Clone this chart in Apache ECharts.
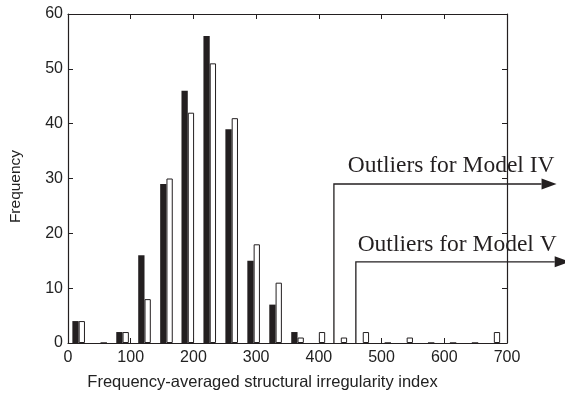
<!DOCTYPE html>
<html>
<head>
<meta charset="utf-8">
<script src="https://cdn.jsdelivr.net/npm/echarts@6/dist/echarts.min.js"></script>
<style>
  html, body { margin: 0; padding: 0; background: #fff; }
  #chart { width: 565px; height: 398px; }
</style>
</head>
<body>
<div id="chart"></div>
<script>
// Histogram bin centres (structural irregularity index)
const binCenters = [17, 52, 87, 122, 157, 191, 226, 261, 296, 331, 366, 400, 435, 470, 505, 540, 574, 609, 644, 679];
// Frequencies per bin for the two models (filled / open bars)
const modelIV = [4, 0, 2, 16, 29, 46, 56, 39, 15, 7, 2, 0, 0, 0, 0, 0, 0, 0, 0, 0];
const modelV  = [4, 0, 2, 8, 30, 42, 51, 41, 18, 11, 1, 2, 1, 2, 0, 1, 0, 0, 0, 2];

// Outlier thresholds: start index, bracket height, arrow end (index units)
const outlierLabels = ['Outliers for Model IV', 'Outliers for Model V'];
const outlierStart = [424, 459];
const outlierLevel = [29, 14.8];
const outlierArrowEnd = [779, 800];

const xTicks = { min: 0, max: 700, step: 100 };
const yTicks = { min: 0, max: 60, step: 10 };

const ink = '#231f20';
const sans = 'Liberation Sans, Arial, sans-serif';
const serif = 'Liberation Serif, Times New Roman, serif';

const chart = echarts.init(document.getElementById('chart'), null, { renderer: 'canvas' });

const boxAxis = {
  axisLine: { show: true, onZero: false, lineStyle: { color: ink, width: 1.2 } },
  axisTick: { show: true, inside: true, length: 5, lineStyle: { color: ink } },
  splitLine: { show: false }
};

const option = {
  animation: false,
  backgroundColor: '#fff',
  grid: { left: 66, right: 58, top: 14, bottom: 55, containLabel: false },
  xAxis: [
    Object.assign({
      type: 'value', min: xTicks.min, max: xTicks.max, interval: xTicks.step,
      position: 'bottom',
      name: 'Frequency-averaged structural irregularity index',
      nameLocation: 'middle', nameGap: 31,
      nameTextStyle: { fontFamily: sans, fontSize: 16.5, color: '#222', padding: [0, 50, 0, 0] },
      axisLabel: { fontFamily: sans, fontSize: 16, color: '#222', margin: 7 }
    }, boxAxis),
    Object.assign({
      type: 'value', min: xTicks.min, max: xTicks.max, interval: xTicks.step,
      position: 'top', axisLabel: { show: false }
    }, boxAxis)
  ],
  yAxis: [
    Object.assign({
      type: 'value', min: yTicks.min, max: yTicks.max, interval: yTicks.step,
      position: 'left',
      name: 'Frequency', nameLocation: 'middle', nameGap: 44,
      nameTextStyle: { fontFamily: sans, fontSize: 15.5, color: '#222', padding: [0, 16, 0, 0] },
      axisLabel: { fontFamily: sans, fontSize: 16, color: '#222', margin: 5 }
    }, boxAxis),
    Object.assign({
      type: 'value', min: yTicks.min, max: yTicks.max, interval: yTicks.step,
      position: 'right', axisLabel: { show: false }
    }, boxAxis)
  ],
  series: [
    {
      name: 'Model IV', type: 'bar',
      xAxisIndex: 0, yAxisIndex: 0,
      barWidth: 6.3, barGap: '0%',
      itemStyle: { color: ink },
      data: binCenters.map((c, i) => [c, modelIV[i]])
    },
    {
      name: 'Model V', type: 'bar',
      xAxisIndex: 0, yAxisIndex: 0,
      barWidth: 6.3, barGap: '0%',
      itemStyle: { color: '#fff', borderColor: ink, borderWidth: 1 },
      data: binCenters.map((c, i) => [c, modelV[i]])
    }
  ]
};

chart.setOption(option);

// Outlier brackets with arrows and their captions
function drawOutliers() {
  const elements = [];
  outlierStart.forEach((start, i) => {
    const base = chart.convertToPixel({ xAxisIndex: 0, yAxisIndex: 0 }, [start, 0]);
    const top = chart.convertToPixel({ xAxisIndex: 0, yAxisIndex: 0 }, [start, outlierLevel[i]]);
    const tip = chart.convertToPixel({ xAxisIndex: 0, yAxisIndex: 0 }, [outlierArrowEnd[i], outlierLevel[i]]);
    const headLen = 15, headHalf = 5.5;
    elements.push({
      type: 'polyline', z: 10, silent: true,
      shape: { points: [[base[0], base[1]], [top[0], top[1]], [tip[0] - headLen, top[1]]] },
      style: { stroke: ink, lineWidth: 1.3, fill: null }
    });
    elements.push({
      type: 'polygon', z: 10, silent: true,
      shape: { points: [[tip[0] - headLen, top[1] - headHalf], [tip[0], top[1]], [tip[0] - headLen, top[1] + headHalf]] },
      style: { fill: ink }
    });
    elements.push({
      type: 'text', z: 11, silent: true,
      x: i === 0 ? tip[0] - 2 : tip[0] - 13,
      y: top[1] - (i === 0 ? 6 : 5),
      style: {
        text: outlierLabels[i], fontFamily: serif, fontSize: 23.5,
        fill: ink, align: 'right', verticalAlign: 'bottom'
      }
    });
  });
  chart.setOption({ graphic: { elements: elements } });
}
drawOutliers();
</script>
</body>
</html>
